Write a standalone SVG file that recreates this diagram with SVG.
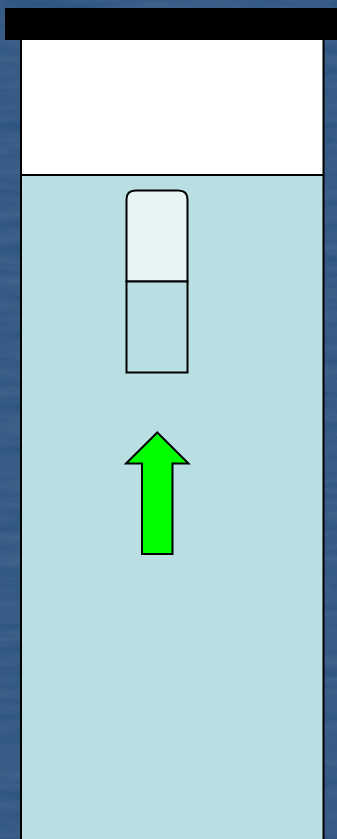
<svg xmlns="http://www.w3.org/2000/svg" width="337" height="839" viewBox="0 0 337 839">
  <defs>
    <filter id="water" x="0" y="0" width="100%" height="100%">
      <feTurbulence type="fractalNoise" baseFrequency="0.012 0.09" numOctaves="3" seed="4" result="n"/>
      <feColorMatrix in="n" type="matrix" values="0 0 0 0 0.14  0 0 0 0 0.27  0 0 0 0 0.43  0 0 0 0.6 -0.15" result="c"/>
      <feComposite in="c" in2="SourceGraphic" operator="over"/>
    </filter>
    <style>
      .outline { stroke: #000; stroke-width: 2; }
      .liquid { fill: #b9dfe3; }
    </style>
  </defs>
  <g id="background">
    <rect x="0" y="0" width="337" height="839" fill="#2f5681"/>
    <rect x="0" y="0" width="337" height="839" fill="#2f5681" filter="url(#water)" opacity="0.6"/>
  </g>
  <g id="container">
    <rect x="21" y="40" width="302" height="135" fill="#ffffff"/>
    <rect x="21" y="175" width="302" height="664" class="liquid"/>
    <line x1="21" y1="175" x2="323" y2="175" class="outline"/>
    <line x1="21" y1="40" x2="21" y2="839" class="outline" stroke-width="2.5"/>
    <line x1="323.5" y1="40" x2="323.5" y2="839" class="outline" stroke-width="2.5"/>
  </g>
  <g id="top-bar">
    <rect x="5" y="8" width="332" height="32" fill="#000000"/>
  </g>
  <g id="test-tube">
    <path d="M126.5,281.5 V199.5 Q126.5,190.5 135.5,190.5 H178.5 Q187.5,190.5 187.5,199.5 V281.5 Z" fill="#e6f4f5" class="outline"/>
    <rect x="126.5" y="281.5" width="61" height="91" class="liquid outline"/>
  </g>
  <g id="arrow">
    <polygon points="157.3,432.5 188.5,463.5 172.5,463.5 172.5,554 142,554 142,463.5 126,463.5" fill="#00ff00" class="outline"/>
  </g>
</svg>
